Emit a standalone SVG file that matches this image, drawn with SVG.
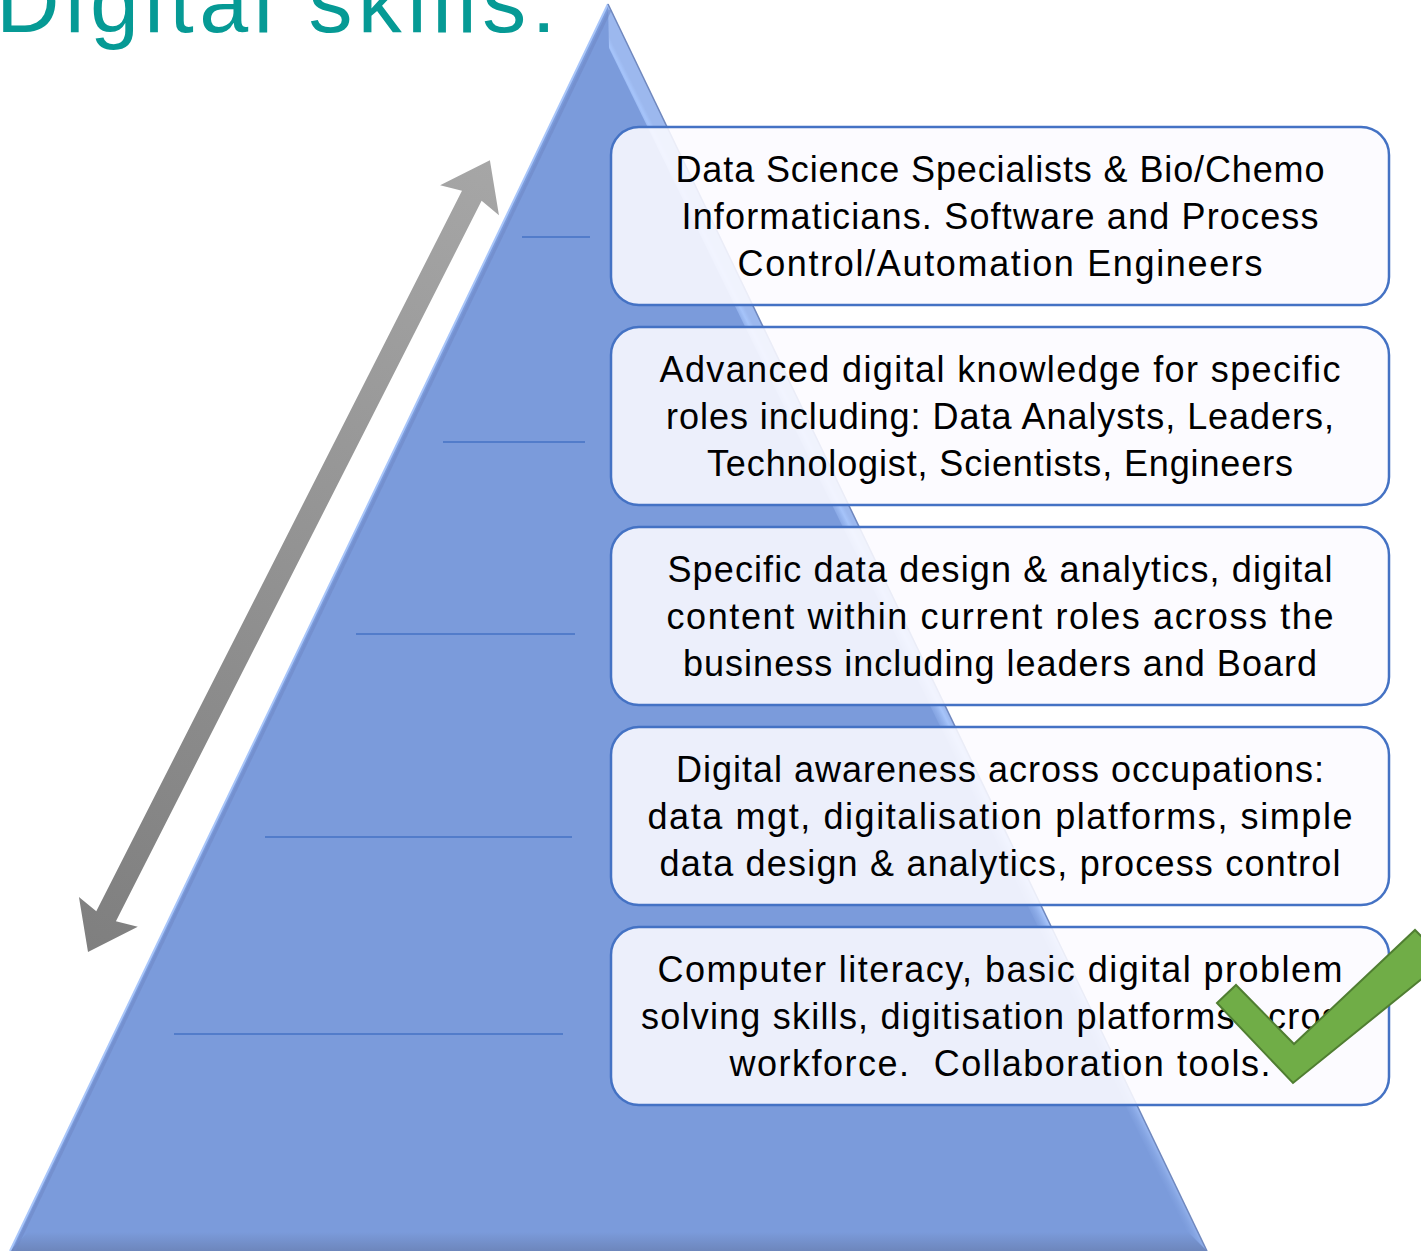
<svg xmlns="http://www.w3.org/2000/svg" width="1421" height="1251" viewBox="0 0 1421 1251">
<defs>
<style>
.box{fill:#FCFBFF;fill-opacity:0.88;stroke:#4472C4;stroke-width:2.5}
.t{font-family:"Liberation Sans",Arial,sans-serif;font-size:36px;fill:#000;text-anchor:middle}
.lvl{stroke:#4472C4;stroke-width:1.5}
</style>
<linearGradient id="arrowGrad" x1="0" y1="0" x2="1" y2="0">
<stop offset="0" stop-color="#7F7F7F"/>
<stop offset="1" stop-color="#A6A6A6"/>
</linearGradient>
<linearGradient id="rightBevel" gradientUnits="userSpaceOnUse" x1="887" y1="637" x2="905" y2="628">
<stop offset="0" stop-color="#7B9BDB" stop-opacity="0"/>
<stop offset="0.8" stop-color="#A6C4FA"/>
<stop offset="1" stop-color="#9CB8EE"/>
</linearGradient>
<linearGradient id="bottomBevel" x1="0" y1="0" x2="0" y2="1">
<stop offset="0" stop-color="#7B9BDB"/>
<stop offset="1" stop-color="#6D86BC"/>
</linearGradient>
</defs>
<rect width="1421" height="1251" fill="#FFFFFF"/>
<text x="-4" y="32" font-family="Liberation Sans, Arial, sans-serif" font-size="88" fill="#069A95" textLength="560">Digital skills:</text>
<g id="pyramid">
<polygon points="608,4 1207,1251 10,1251" fill="#7B9BDB"/>
<polygon points="608,4 1207,1251 1188,1234 609,48" fill="url(#rightBevel)"/>
<polygon points="10,1251 1207,1251 1188,1232 28,1232" fill="url(#bottomBevel)"/>
<line x1="608" y1="4" x2="10" y2="1251" stroke="#A9C6FA" stroke-width="2"/>
<line x1="610" y1="10" x2="14" y2="1251" stroke="#6F89C6" stroke-width="3" stroke-opacity="0.6"/>
<line x1="608" y1="4" x2="1207" y2="1251" stroke="#7088BE" stroke-width="1.5"/>
<line class="lvl" x1="522" y1="237" x2="590" y2="237"/>
<line class="lvl" x1="443" y1="442" x2="585" y2="442"/>
<line class="lvl" x1="356" y1="634" x2="575" y2="634"/>
<line class="lvl" x1="265" y1="837" x2="572" y2="837"/>
<line class="lvl" x1="174" y1="1034" x2="563" y2="1034"/>
</g>
<g id="connectors">
<polygon transform="translate(88,952) rotate(-63.09)" fill="url(#arrowGrad)" points="0,0 45,-33 40,-11 848,-11 843,-33 888,0 843,33 848,11 40,11 45,33"/>
</g>
<g id="box1">
<rect class="box" x="611" y="127" width="778" height="178" rx="28"/>
<text class="t" x="1000" y="182" textLength="649">Data Science Specialists &amp; Bio/Chemo</text>
<text class="t" x="1000" y="229" textLength="637">Informaticians. Software and Process</text>
<text class="t" x="1000" y="276" textLength="525">Control/Automation Engineers</text>
</g>
<g id="box2">
<rect class="box" x="611" y="327" width="778" height="178" rx="28"/>
<text class="t" x="1000" y="382" textLength="681">Advanced digital knowledge for specific</text>
<text class="t" x="1000" y="429" textLength="668">roles including: Data Analysts, Leaders,</text>
<text class="t" x="1000" y="476" textLength="586">Technologist, Scientists, Engineers</text>
</g>
<g id="box3">
<rect class="box" x="611" y="527" width="778" height="178" rx="28"/>
<text class="t" x="1000" y="582" textLength="665">Specific data design &amp; analytics, digital</text>
<text class="t" x="1000" y="629" textLength="667">content within current roles across the</text>
<text class="t" x="1000" y="676" textLength="634">business including leaders and Board</text>
</g>
<g id="box4">
<rect class="box" x="611" y="727" width="778" height="178" rx="28"/>
<text class="t" x="1000" y="782" textLength="648">Digital awareness across occupations:</text>
<text class="t" x="1000" y="829" textLength="705">data mgt, digitalisation platforms, simple</text>
<text class="t" x="1000" y="876" textLength="681">data design &amp; analytics, process control</text>
</g>
<g id="box5">
<rect class="box" x="611" y="927" width="778" height="178" rx="28"/>
<text class="t" x="1000" y="982" textLength="685">Computer literacy, basic digital problem</text>
<text class="t" x="1000" y="1029" textLength="718">solving skills, digitisation platforms across</text>
<text class="t" x="1000" y="1076" textLength="541" xml:space="preserve">workforce.  Collaboration tools.</text>
</g>
<g id="checkmark">
<polygon points="1217,1003 1236,985 1294,1044 1415,930 1445,960 1293,1083" fill="#70AD47" stroke="#507E32" stroke-width="2"/>
</g>
</svg>
